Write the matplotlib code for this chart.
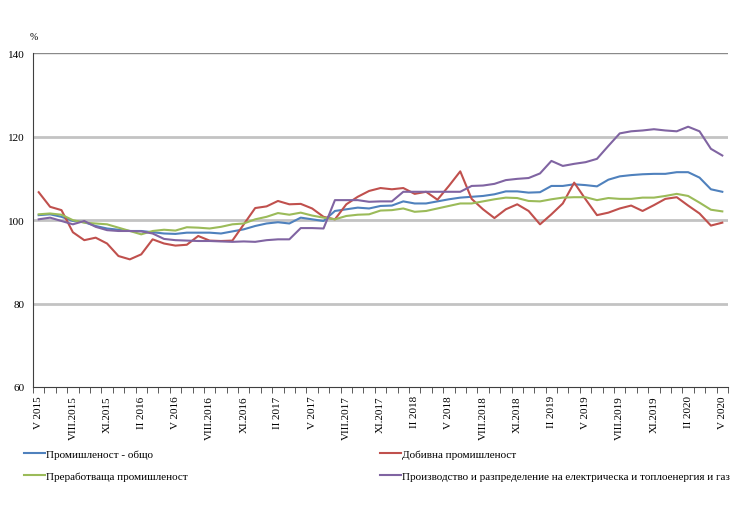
import matplotlib
matplotlib.use("Agg")
import matplotlib.pyplot as plt
from matplotlib.ticker import FixedLocator

tick_labels = ["V 2015", "VIII.2015", "XI.2015", "II 2016", "V 2016", "VIII.2016", "XI.2016",
               "II 2017", "V 2017", "VIII.2017", "XI.2017", "II 2018", "V 2018", "VIII.2018",
               "XI.2018", "II 2019", "V 2019", "VIII.2019", "XI.2019", "II 2020", "V 2020"]

series_names = ["Промишленост - общо", "Добивна промишленост",
                "Преработваща промишленост",
                "Производство и разпределение на електрическа и топлоенергия и газ"]

total = [101.2, 101.4, 100.8, 99.8, 99.5, 98.6, 98.0, 97.7, 97.4, 97.4, 97.1, 96.8, 96.7, 97.0, 97.0, 97.0,
         96.8, 97.3, 97.8, 98.6, 99.2, 99.5, 99.2, 100.6, 100.2, 99.8, 102.2, 102.6, 103.0, 102.8, 103.4,
         103.5, 104.5, 104.0, 104.0, 104.5, 105.0, 105.4, 105.6, 105.8, 106.2, 106.9, 106.9, 106.6, 106.7, 108.2,
         108.2, 108.6, 108.4, 108.1, 109.7, 110.5, 110.8, 111.0, 111.1, 111.1, 111.5, 111.5, 110.2, 107.4, 106.8]

mining = [106.7, 103.2, 102.4, 97.1, 95.2, 95.8, 94.4, 91.4, 90.6, 91.8, 95.4, 94.4, 93.9, 94.1, 96.2, 95.1,
          95.0, 95.1, 99.0, 102.9, 103.3, 104.6, 103.8, 103.9, 102.8, 100.8, 100.2, 103.8, 105.6, 107.0, 107.7,
          107.4, 107.7, 106.3, 106.8, 104.9, 108.2, 111.7, 105.1, 102.6, 100.5, 102.6, 103.8, 102.2, 99.0, 101.4,
          104.0, 109.0, 105.0, 101.2, 101.8, 102.8, 103.5, 102.2, 103.6, 105.1, 105.5, 103.5, 101.6, 98.7, 99.4]

manufacturing = [101.4, 101.6, 101.3, 100.0, 99.4, 99.2, 99.0, 98.2, 97.4, 96.6, 97.4, 97.7, 97.5, 98.3, 98.2, 98.0,
                 98.4, 99.0, 99.2, 100.2, 100.8, 101.7, 101.3, 101.8, 101.1, 100.6, 100.2, 101.0, 101.3, 101.4, 102.3,
                 102.4, 102.8, 102.0, 102.2, 102.8, 103.4, 104.0, 104.0, 104.5, 105.0, 105.4, 105.3, 104.6, 104.5, 105.0,
                 105.4, 105.5, 105.5, 104.8, 105.3, 105.1, 105.1, 105.4, 105.4, 105.8, 106.3, 105.8, 104.2, 102.5, 102.1]

energy = [100.2, 100.6, 99.8, 99.0, 99.8, 98.4, 97.6, 97.4, 97.4, 97.3, 96.8, 95.5, 95.2, 95.1, 95.0, 95.0,
          94.9, 94.8, 94.9, 94.8, 95.2, 95.4, 95.4, 98.1, 98.1, 98.0, 104.8, 104.8, 104.8, 104.4, 104.5,
          104.5, 106.8, 106.8, 106.8, 106.8, 106.8, 106.8, 108.2, 108.3, 108.7, 109.6, 109.9, 110.1, 111.2, 114.2,
          113.0, 113.5, 113.9, 114.7, 117.8, 120.8, 121.3, 121.5, 121.8, 121.5, 121.3, 122.4, 121.3, 117.1, 115.5]

colors = ["#4F81BD", "#C0504D", "#9BBB59", "#8064A2"]
serif = ["Liberation Serif", "DejaVu Serif"]

fig = plt.figure(figsize=(7.4, 5.06), dpi=100)
ax = fig.add_axes([33 / 740, 1 - 388 / 506, (728 - 33) / 740, (388 - 54.3) / 506])

n = len(total)
x = list(range(n))
lines = []
for data, c, name in zip([total, mining, manufacturing, energy], colors, series_names):
    ln, = ax.plot(x, data, color=c, lw=1.5, label=name, solid_joinstyle="round")
    lines.append(ln)

ax.set_xlim(-0.5, n - 0.5)
ax.set_ylim(60, 140)
yt = [60, 80, 100, 120, 140]
ax.set_yticks(yt)
ax.set_yticklabels([str(v) for v in yt], fontfamily=serif, fontsize=8)
for v in [80, 100, 120]:
    ax.axhline(v, color="#c3c3c3", lw=2, zorder=0)
ax.axhline(140, color="#8a8a8a", lw=1, zorder=0)
ax.tick_params(axis="y", length=0, pad=6)

ax.set_xticks(list(range(0, n, 3)))
ax.set_xticklabels(tick_labels, rotation=90, fontfamily=serif, fontsize=8, va="top", ha="center")
ax.xaxis.set_minor_locator(FixedLocator([i - 0.5 for i in range(n + 1)]))
ax.tick_params(axis="x", which="major", length=0, pad=6)
ax.tick_params(axis="x", which="minor", length=4, direction="out", color="#404040")

for s in ["top", "right"]:
    ax.spines[s].set_visible(False)
ax.spines["left"].set_color("#404040")
ax.spines["bottom"].set_color("#404040")

fig.text(30 / 740, 1 - 38 / 506, "%", fontsize=7, fontfamily=serif, ha="left", va="center")

leg1 = fig.legend([lines[0], lines[2]], [series_names[0], series_names[2]],
                  loc="upper left", bbox_to_anchor=(14 / 740, 1 - 440 / 506), frameon=False,
                  prop={"family": serif, "size": 8}, handlelength=1.9, handletextpad=0.1,
                  labelspacing=1.15)
leg2 = fig.legend([lines[1], lines[3]], [series_names[1], series_names[3]],
                  loc="upper left", bbox_to_anchor=(370 / 740, 1 - 440 / 506), frameon=False,
                  prop={"family": serif, "size": 8}, handlelength=1.9, handletextpad=0.1,
                  labelspacing=1.15)

fig.savefig("out.png", dpi=100)
